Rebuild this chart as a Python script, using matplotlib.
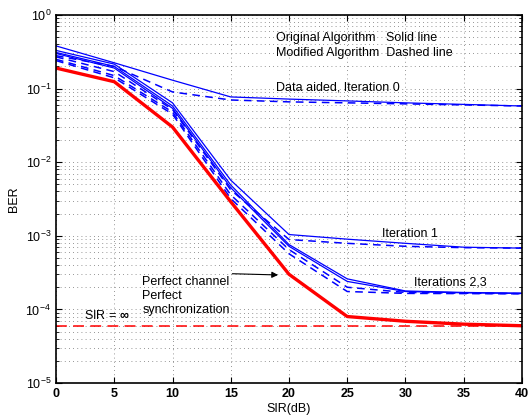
import matplotlib
matplotlib.use("Agg")
import matplotlib.pyplot as plt
from matplotlib.ticker import LogLocator, NullFormatter, FixedLocator

plt.rcParams['font.family'] = ['Liberation Sans', 'DejaVu Sans']
plt.rcParams['mathtext.fontset'] = 'custom'
plt.rcParams['mathtext.rm'] = 'Liberation Sans:bold'
plt.rcParams['mathtext.it'] = 'Liberation Sans:bold'
plt.rcParams['mathtext.bf'] = 'Liberation Sans:bold'

# SIR in dB
sir = [0, 5, 10, 15, 20, 25, 30, 35, 40]

# Original algorithm (solid)
iter0_orig = [0.38, 0.224, 0.13, 0.077, 0.072, 0.068, 0.064, 0.061, 0.058]
iter1_orig = [0.33, 0.215, 0.064, 5.7e-3, 1.04e-3, 9.0e-4, 7.9e-4, 7.0e-4, 6.8e-4]
iter2_orig = [0.31, 0.20, 0.058, 4.9e-3, 7.6e-4, 2.6e-4, 1.78e-4, 1.70e-4, 1.66e-4]
iter3_orig = [0.30, 0.19, 0.054, 4.5e-3, 7.2e-4, 2.4e-4, 1.75e-4, 1.68e-4, 1.65e-4]

# Modified algorithm (dashed)
iter0_mod = [0.28, 0.20, 0.09, 0.07, 0.066, 0.064, 0.062, 0.060, 0.058]
iter1_mod = [0.27, 0.17, 0.052, 4.2e-3, 8.9e-4, 7.9e-4, 7.2e-4, 6.9e-4, 6.8e-4]
iter2_mod = [0.25, 0.15, 0.048, 3.6e-3, 6.5e-4, 2.0e-4, 1.70e-4, 1.66e-4, 1.64e-4]
iter3_mod = [0.24, 0.14, 0.045, 3.2e-3, 5.7e-4, 1.75e-4, 1.65e-4, 1.64e-4, 1.63e-4]

# Perfect channel / synchronization
perfect = [0.19, 0.124, 0.030, 2.9e-3, 3.0e-4, 8.0e-5, 6.9e-5, 6.3e-5, 6.0e-5]
sir_inf_ber = 5.9e-5

fig = plt.figure(figsize=(5.31, 4.16), dpi=100)
ax = fig.add_axes([0.1055, 0.0793, 0.8775, 0.8847])

blue = (0, 0, 1)
for y in [iter0_orig, iter1_orig, iter2_orig, iter3_orig]:
    ax.plot(sir, y, color=blue, linewidth=0.9)
for y in [iter0_mod, iter1_mod, iter2_mod, iter3_mod]:
    ax.plot(sir, y, color=blue, linewidth=1.1, linestyle=(0, (5, 3.5)))
ax.plot(sir, perfect, color='red', linewidth=2.4)
ax.axhline(sir_inf_ber, color='red', linewidth=1.3, linestyle=(0, (6, 3.5)), alpha=0.85)

ax.set_yscale('log')
ax.set_xlim(0, 40)
ax.set_ylim(1e-5, 1)
ax.xaxis.set_major_locator(FixedLocator(sir))
ax.yaxis.set_major_locator(LogLocator(base=10, numticks=10))
ax.yaxis.set_minor_locator(LogLocator(base=10, subs=range(2, 10), numticks=20))
ax.yaxis.set_minor_formatter(NullFormatter())
ax.tick_params(which='both', direction='in', top=True, right=True, labelsize=9)
ax.tick_params(which='major', length=4, width=0.8)
ax.tick_params(which='minor', length=2, width=0.6)
for lab in ax.get_xticklabels():
    lab.set_fontweight('bold')

ax.grid(True, which='major', axis='x', color='0.45', linestyle=(0, (1, 4)), linewidth=0.6)
ax.grid(True, which='both', axis='y', color='0.45', linestyle=(0, (1, 4)), linewidth=0.6)
for s in ax.spines.values():
    s.set_linewidth(1.2)

ax.set_xlabel('SIR(dB)', fontsize=9, labelpad=2)
ax.set_ylabel('BER', fontsize=9, labelpad=4)

fs = 9
ax.text(18.9, 0.49, 'Original Algorithm   Solid line', fontsize=fs, va='center')
ax.text(18.9, 0.30, 'Modified Algorithm  Dashed line', fontsize=fs, va='center')
ax.text(18.9, 0.105, 'Data aided, Iteration 0', fontsize=fs, va='center')
ax.text(28.0, 1.05e-3, 'Iteration 1', fontsize=fs, va='center')
ax.text(30.7, 2.3e-4, 'Iterations 2,3', fontsize=fs, va='center')
ax.text(7.4, 2.85e-4, 'Perfect channel\nPerfect\nsynchronization', fontsize=fs,
        va='top', linespacing=1.2)
ax.text(2.4, 8.3e-5, r'SIR = $\infty$', fontsize=fs, va='center')
ax.annotate('', xy=(19.3, 2.93e-4), xytext=(14.9, 3.06e-4),
            arrowprops=dict(arrowstyle='-|>', color='black', lw=0.8,
                            mutation_scale=9))

fig.savefig('out.png', dpi=100)
